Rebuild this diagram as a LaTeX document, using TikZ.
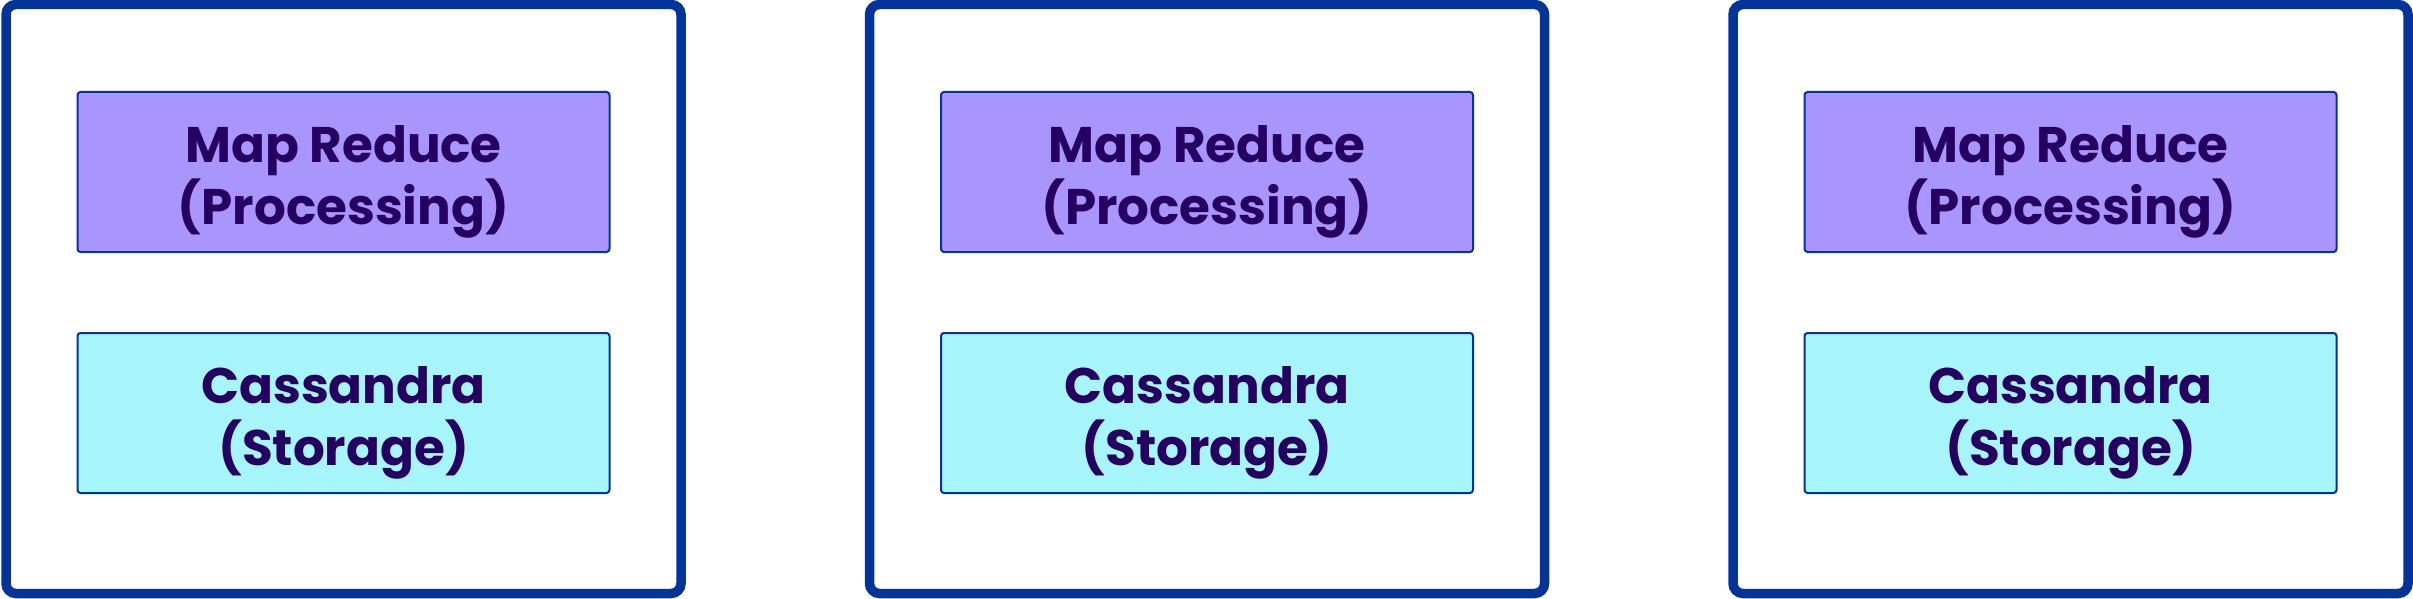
\documentclass[tikz,border=0pt]{standalone}
\usepackage{fontspec}
\setmainfont{Poppins}[BoldFont={Poppins Bold}]
\definecolor{frameblue}{RGB}{4,51,153}
\definecolor{procfill}{RGB}{168,150,252}
\definecolor{storfill}{RGB}{165,245,250}
\definecolor{textpurple}{RGB}{38,0,96}
\tikzset{
  outerbox/.style={draw=frameblue, line width=9.5pt, rounded corners=10pt, minimum width=675pt, minimum height=589pt, inner sep=0pt},
  innerbox/.style={draw=frameblue, line width=2pt, rounded corners=3pt, minimum width=532pt, minimum height=160pt, inner sep=0pt},
  procbox/.style={innerbox, fill=procfill},
  storbox/.style={innerbox, fill=storfill},
  boxtext/.style={inner sep=0pt, align=center, text=textpurple, font=\fontsize{50}{62}\selectfont\bfseries}
}
\begin{document}
\begin{tikzpicture}[x=1pt,y=-1pt]
\useasboundingbox (0,0) rectangle (2413,599);
\foreach \i/\cx in {1/343.5, 2/1207, 3/2070.5}{
  \node[outerbox] (outer\i) at (\cx,299) {};
  \node[procbox] (map\i) at (\cx,172) {};
  \node[boxtext] (maptext\i) at (\cx,182) {Map Reduce\\(Processing)};
  \node[storbox] (cas\i) at (\cx,413) {};
  \node[boxtext] (castext\i) at (\cx,423) {Cassandra\\(Storage)};
}
\end{tikzpicture}
\end{document}
